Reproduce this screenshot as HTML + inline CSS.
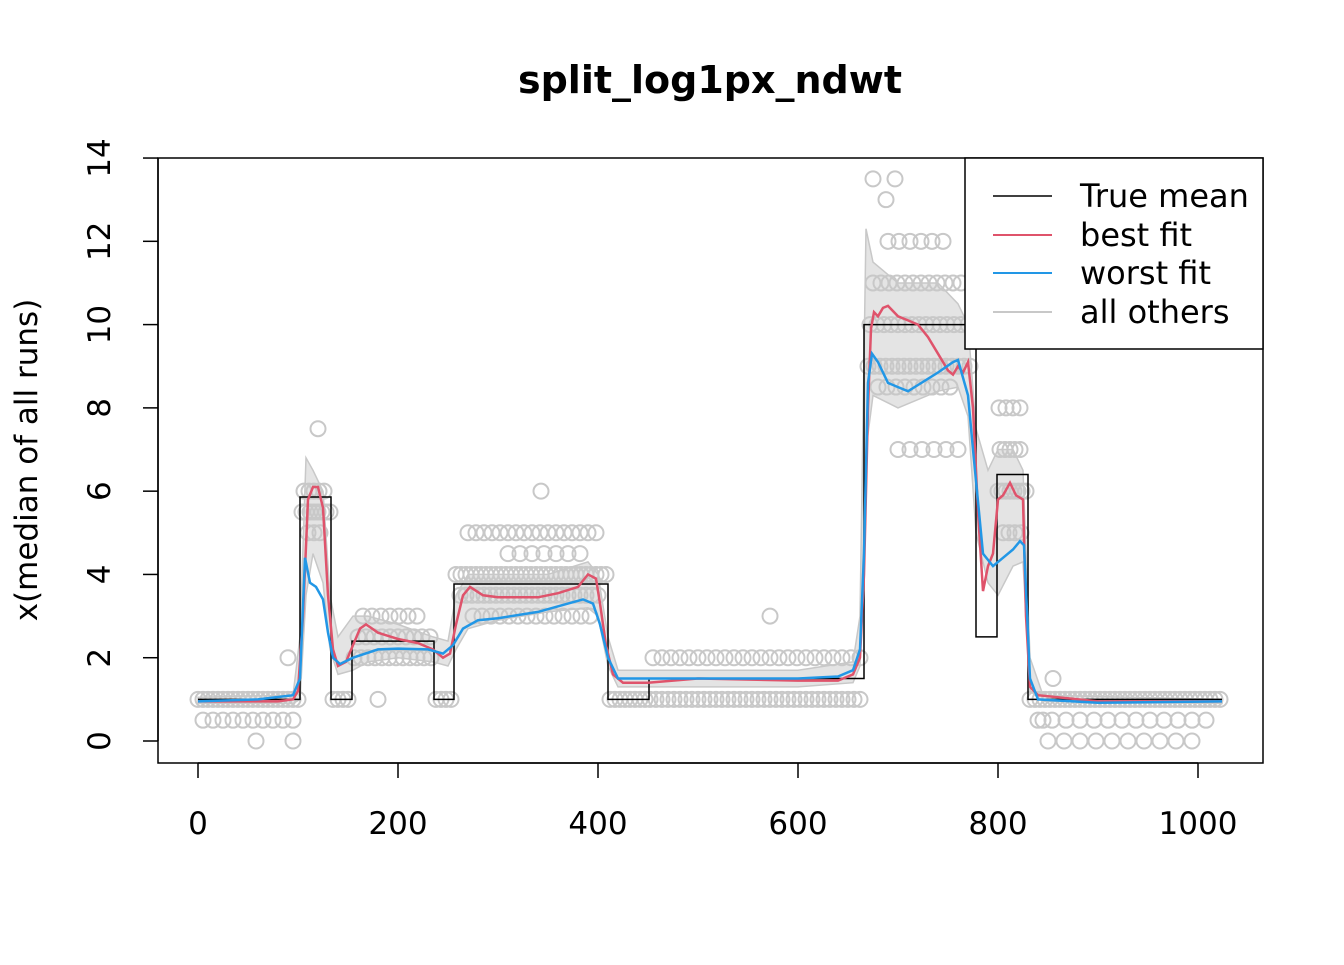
<!DOCTYPE html>
<html><head><meta charset="utf-8"><style>
body{margin:0;background:#fff}
text{font-family:"DejaVu Sans","Liberation Sans",sans-serif}
</style></head><body>
<svg id="chart" width="1344" height="960" xmlns="http://www.w3.org/2000/svg">
<rect width="1344" height="960" fill="#fff"/>
<text x="710" y="93" text-anchor="middle" font-size="38" font-weight="bold">split_log1px_ndwt</text>
<text transform="translate(37,460) rotate(-90)" text-anchor="middle" font-size="31">x(median of all runs)</text>
<g id="marks"></g>
<rect x="158" y="158" width="1105" height="605" fill="none" stroke="#000" stroke-width="1.5"/>
<g id="axes"></g>
<g>
<rect x="965" y="158" width="298" height="191" fill="#fff" stroke="#000" stroke-width="1.5"/>
<line x1="993" y1="196" x2="1052" y2="196" stroke="#000" stroke-width="1.5"/><text x="1080" y="207" font-size="32">True mean</text>
<line x1="993" y1="235" x2="1052" y2="235" stroke="#DF536B" stroke-width="2"/><text x="1080" y="246" font-size="32">best fit</text>
<line x1="993" y1="273" x2="1052" y2="273" stroke="#2297E6" stroke-width="2"/><text x="1080" y="284" font-size="32">worst fit</text>
<line x1="993" y1="312" x2="1052" y2="312" stroke="#c8c8c8" stroke-width="2"/><text x="1080" y="323" font-size="32">all others</text>
</g>
</svg>
<script>
const trueX=[0,102,133,154,236,256,410,451,666,778,799,830,1024];
const trueY=[1,5.86,1,2.4,1,3.77,1,1.5,10,2.5,6.4,1];
const bestX=[0,80,95,100,105,110,115,120,125,130,135,140,148,155,162,168,180,200,220,235,245,252,258,265,272,285,300,320,340,360,380,390,398,402,408,415,425,450,500,600,640,655,662,666,670,673,676,680,685,690,700,710,720,730,740,750,755,760,765,770,775,780,785,790,795,800,805,812,818,825,828,832,840,900,1024];
const bestY=[0.95,0.95,1,1.2,3,5.8,6.1,6.1,5.6,3.5,2.2,1.8,1.9,2.3,2.7,2.8,2.6,2.45,2.35,2.2,2.0,2.1,2.8,3.5,3.7,3.5,3.45,3.45,3.45,3.55,3.7,4.0,3.9,3.3,2.3,1.6,1.4,1.4,1.5,1.45,1.45,1.6,2,4,8,9.9,10.3,10.2,10.4,10.45,10.2,10.1,10.0,9.7,9.3,8.9,8.8,9.0,8.85,9.1,8,5.5,3.6,4.2,4.5,5.8,5.9,6.2,5.9,5.8,3,1.3,1.1,0.95,0.95];
const worstX=[0,60,95,102,107,112,118,125,130,135,142,155,180,200,230,245,255,265,280,300,340,370,385,395,402,410,420,440,500,600,640,655,662,666,670,674,680,690,700,710,720,740,755,760,770,775,785,795,805,815,822,826,832,840,900,1024];
const worstY=[0.95,1.0,1.1,1.5,4.4,3.8,3.7,3.4,2.6,2.0,1.85,2.0,2.2,2.22,2.2,2.1,2.3,2.7,2.9,2.95,3.1,3.3,3.4,3.3,2.8,2,1.5,1.5,1.5,1.5,1.55,1.7,2.2,4.5,8.6,9.3,9.1,8.6,8.5,8.4,8.55,8.85,9.1,9.15,8.3,7,4.5,4.2,4.4,4.6,4.8,4.7,1.5,1.0,0.92,0.95];
const bandX=[0,95,102,108,115,125,132,140,155,170,200,235,250,258,270,300,350,390,400,410,420,450,600,655,662,668,675,700,740,760,770,778,790,800,815,825,832,845,1024];
const bandUp=[1.05,1.1,2.5,6.8,6.5,6.0,3.5,2.5,3,3,2.8,2.5,2.4,3.5,4,4,4,4.3,4,2.5,1.7,1.7,1.7,1.9,3,12.3,11.5,11,11,10.5,10,7.5,6.5,7,7,6.5,2,1.1,1.0];
const bandLo=[0.9,0.9,1.0,3.5,4.5,3.8,2.2,1.6,1.7,1.9,2.0,1.9,1.8,2.2,2.7,2.9,3.1,3.2,3.0,1.8,1.3,1.3,1.3,1.4,1.8,7,8.3,8,8.4,8.5,7.8,5,3.8,3.5,4.2,4.3,1.2,0.95,0.9];
// point rows: [xStart, xEnd, step, value]
const pointRows=[[0,100,5,1],[135,154,5,1],[238,256,5,1],[412,450,5,1],[452,665,6,1],[455,665,9,2],[832,1024,5,1],
[104,132,4,5.5],[106,130,5,6],[110,126,6,5],[156,235,7,2],[160,232,8,2.5],[165,225,9,3],
[258,408,5,4],[262,405,6,3.5],[270,400,8,5],[275,400,9,3],[310,390,12,4.5],
[670,775,6,9],[672,770,7,10],[675,770,8,11],[680,760,9,8.5],[690,750,11,12],[700,765,12,7],
[800,828,4,6],[802,826,5,7],[805,825,6,5],[801,822,7,8],
[5,95,10,0.5],[840,1015,14,0.5],[850,1000,16,0]];
const extraPtsX=[90,58,95,343,572,180,120,688,675,697,855,845];
const extraPtsY=[2,0,0,6,3,1,7.5,13,13.5,13.5,1.5,0.5];

const xs=v=>198+v*1.0, ys=v=>741-v*41.64;
const NS="http://www.w3.org/2000/svg";
const marks=document.getElementById('marks');
function mk(t,a){const e=document.createElementNS(NS,t);for(const k in a)e.setAttribute(k,a[k]);return e;}
function pathOf(X,Y){return X.map((x,i)=>(i?'L':'M')+xs(x).toFixed(1)+','+ys(Y[i]).toFixed(1)).join('');}
let bd=pathOf(bandX,bandUp);
for(let i=bandX.length-1;i>=0;i--)bd+='L'+xs(bandX[i]).toFixed(1)+','+ys(bandLo[i]).toFixed(1);
const band=mk('path',{d:bd+'Z',fill:'#e4e4e4',stroke:'#c8c8c8','stroke-width':1.5});


marks.appendChild(band);
const pg=mk('g',{fill:'none',stroke:'#c8c8c8','stroke-width':2});


pointRows.forEach(r=>{for(let x=r[0];x<=r[1];x+=r[2]){pg.appendChild(mk('circle',{cx:xs(x),cy:ys(r[3]),r:7.5}));}});
extraPtsX.forEach((x,i)=>pg.appendChild(mk('circle',{cx:xs(x),cy:ys(extraPtsY[i]),r:7.5})));
marks.appendChild(pg);
let td='M'+xs(trueX[0])+','+ys(trueY[0]);
for(let i=0;i<trueY.length;i++){td+='L'+xs(trueX[i+1])+','+ys(trueY[i]);if(i+1<trueY.length)td+='L'+xs(trueX[i+1])+','+ys(trueY[i+1]);}
const tl=mk('path',{d:td,fill:'none',stroke:'#000','stroke-width':1.5});


marks.appendChild(tl);
const wl=mk('path',{d:pathOf(worstX,worstY),fill:'none',stroke:'#2297E6','stroke-width':2.5});


const bl=mk('path',{d:pathOf(bestX,bestY),fill:'none',stroke:'#DF536B','stroke-width':2.5});


marks.appendChild(bl);marks.appendChild(wl);
const ax=document.getElementById('axes');
const xTicks=[0,200,400,600,800,1000], yTicks=[0,2,4,6,8,10,12,14];
ax.appendChild(mk('line',{x1:xs(0),x2:xs(1000),y1:763,y2:763,stroke:'#000','stroke-width':1.5}));
xTicks.forEach(v=>{ax.appendChild(mk('line',{x1:xs(v),x2:xs(v),y1:763,y2:778,stroke:'#000','stroke-width':1.5}));
const t=mk('text',{x:xs(v),y:834,'text-anchor':'middle','font-size':31});t.textContent=v;


ax.appendChild(t);});
yTicks.forEach(v=>{ax.appendChild(mk('line',{x1:143,x2:158,y1:ys(v),y2:ys(v),stroke:'#000','stroke-width':1.5}));
const t=mk('text',{transform:`translate(110,${ys(v)}) rotate(-90)`,'text-anchor':'middle','font-size':31});t.textContent=v;


ax.appendChild(t);});
ax.appendChild(mk('line',{x1:158,x2:158,y1:ys(0),y2:ys(14),stroke:'#000','stroke-width':1.5}));
</script>
</body></html>
